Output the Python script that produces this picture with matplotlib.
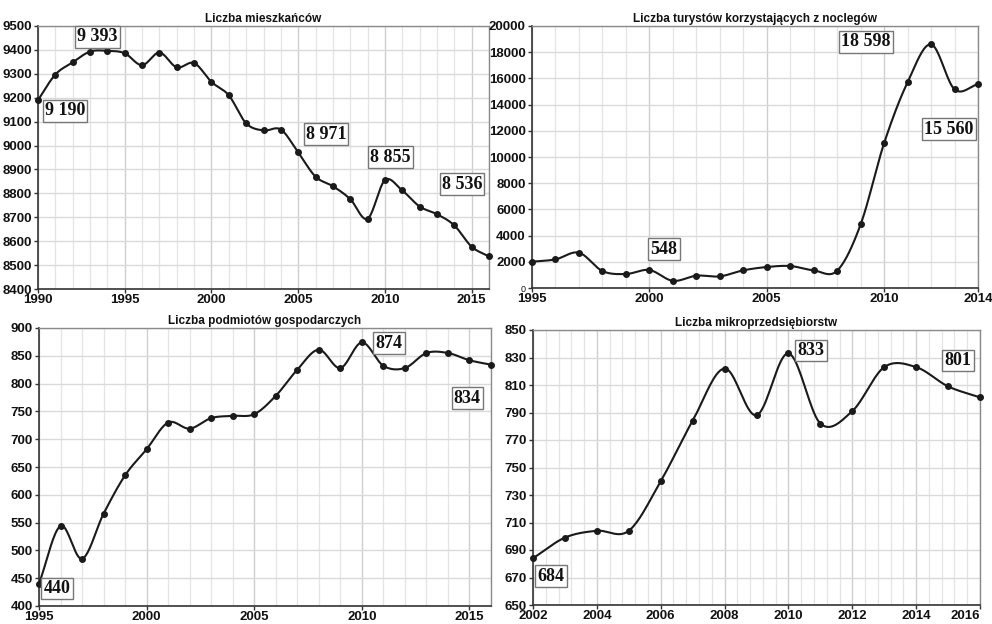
import numpy as np
import matplotlib
matplotlib.use("Agg")
import matplotlib.pyplot as plt
from matplotlib.ticker import FixedLocator

# ---------------- data ----------------
years_pop = list(range(1990, 2017))
pop = [9190, 9297, 9348, 9393, 9396, 9386, 9336, 9389, 9327, 9345, 9266, 9210,
       9093, 9063, 9067, 8971, 8870, 8830, 8776, 8694, 8855, 8812, 8745, 8713,
       8666, 8577, 8536]

years_tour = list(range(1995, 2015))
tourists = [2008, 2185, 2694, 1296, 1067, 1372, 548, 940, 889, 1347, 1601, 1677,
            1347, 1321, 4854, 11055, 15705, 18598, 15170, 15560]

years_firms = list(range(1995, 2017))
firms = [440, 544, 485, 566, 635, 682, 730, 719, 738, 742, 745, 778, 825, 861,
         828, 874, 832, 828, 855, 855, 842, 834]

years_micro = list(range(2002, 2017))
micro = [684, 699, 704, 704, 740, 784, 822, 788, 833, 782, 791, 823, 823, 809, 801]

titles = ["Liczba mieszkańców", "Liczba turystów korzystających z noclegów",
          "Liczba podmiotów gospodarczych", "Liczba mikroprzedsiębiorstw"]

labels_pop = [("9 393", 1993.44, 9454), ("9 190", 1991.56, 9145), ("8 971", 2006.6, 9048),
              ("8 855", 2010.3, 8952), ("8 536", 2014.44, 8839)]
labels_tour = [("18 598", 2009.23, 18779), ("15 560", 2012.76, 12137), ("548", 2000.62, 2977)]
labels_firms = [("874", 2011.26, 873), ("834", 2014.9, 774), ("440", 1995.84, 432)]
labels_micro = [("833", 2010.71, 835), ("801", 2015.31, 828), ("684", 2002.56, 671)]


def catmull_rom(x, y, n=20):
    x = np.asarray(x, float)
    y = np.asarray(y, float)
    P = np.column_stack([x, y])
    P = np.vstack([2 * P[0] - P[1], P, 2 * P[-1] - P[-2]])
    out = []
    t = np.linspace(0, 1, n, endpoint=False)
    for i in range(1, len(P) - 2):
        p0, p1, p2, p3 = P[i - 1], P[i], P[i + 1], P[i + 2]
        tt = t[:, None]
        seg = 0.5 * ((2 * p1) + (-p0 + p2) * tt + (2 * p0 - 5 * p1 + 4 * p2 - p3) * tt ** 2
                     + (-p0 + 3 * p1 - 3 * p2 + p3) * tt ** 3)
        out.append(seg)
    out.append(P[-2][None, :])
    S = np.vstack(out)
    return S[:, 0], S[:, 1]


plt.rcParams['font.family'] = ['Liberation Sans', 'DejaVu Sans']

fig = plt.figure(figsize=(9.92, 6.24), dpi=100)
fig.patch.set_facecolor('white')

W, H = 992.0, 624.0


def make_ax(l, t, r, b):
    return fig.add_axes([l / W, 1 - b / H, (r - l) / W, (b - t) / H])


panels = [
    dict(box=(38, 26, 489, 289), x=years_pop, y=pop, xlim=(1990, 2016), ylim=(8400, 9500),
         xt=[1990, 1995, 2000, 2005, 2010, 2015], ystep=100, xminor=1, labels=labels_pop),
    dict(box=(532, 26, 978, 288), x=years_tour, y=tourists, xlim=(1995, 2014), ylim=(0, 20000),
         xt=[1995, 2000, 2005, 2010, 2014], ystep=2000, xminor=1, labels=labels_tour),
    dict(box=(39, 328, 491, 606), x=years_firms, y=firms, xlim=(1995, 2016), ylim=(400, 900),
         xt=[1995, 2000, 2005, 2010, 2015], ystep=50, xminor=1, labels=labels_firms),
    dict(box=(533, 330, 980, 605), x=years_micro, y=micro, xlim=(2002, 2016), ylim=(650, 850),
         xt=list(range(2002, 2017, 2)), ystep=20, xminor=0.4, labels=labels_micro),
]

for i, p in enumerate(panels):
    ax = make_ax(*p['box'])
    ax.set_xlim(*p['xlim'])
    ax.set_ylim(*p['ylim'])
    # grid
    x0, x1 = p['xlim']
    xs = np.arange(x0, x1 + 1e-9, p['xminor'])
    for xv in xs:
        major = any(abs(xv - t) < 1e-6 for t in p['xt'])
        ax.axvline(xv, color='#cfcfcf' if major else '#e4e4e4', lw=1.0 if major else 0.9, zorder=0)
    y0, y1 = p['ylim']
    for yv in np.arange(y0, y1 + 1e-9, p['ystep']):
        ax.axhline(yv, color='#dadada', lw=1.0, zorder=0)
    # line
    sx, sy = catmull_rom(p['x'], p['y'])
    ax.plot(sx, sy, color='#1a1a1a', lw=1.5, zorder=3, clip_on=False)
    ax.plot(p['x'], p['y'], 'o', color='#1a1a1a', ms=4, zorder=4, clip_on=False)
    # ticks
    ax.xaxis.set_major_locator(FixedLocator(p['xt']))
    ax.set_xticklabels([str(t) for t in p['xt']])
    yt = np.arange(y0, y1 + 1e-9, p['ystep'])
    ax.set_yticks(yt)
    ax.set_yticklabels([str(int(v)) for v in yt])
    ax.tick_params(axis='both', direction='out', length=3, width=1, color='#333333')
    ax.tick_params(axis='y', pad=1.5)
    ax.tick_params(axis='x', pad=0.5)
    for lab in ax.get_xticklabels() + ax.get_yticklabels():
        lab.set_fontweight('bold')
        lab.set_fontsize(9.5)
        lab.set_color('#111111')
    if i == 1:
        zl = ax.get_yticklabels()[0]
        zl.set_fontweight('normal')
        zl.set_fontsize(6.5)
    if i == 3:
        ax.get_xticklabels()[-1].set_horizontalalignment('right')
        ax.get_xticklabels()[-1].set_x(p['xt'][-1])
    for s in ['left', 'bottom']:
        ax.spines[s].set_color('#333333')
        ax.spines[s].set_linewidth(1.2)
    for s in ['top', 'right']:
        ax.spines[s].set_color('#8a8a8a')
        ax.spines[s].set_linewidth(1.0)
    ax.set_title(titles[i], fontsize=8.5, fontweight='bold', pad=3, color='#111111')
    for txt, lx, ly in p['labels']:
        ax.text(lx, ly, txt, ha='center', va='center', fontsize=13, fontweight='bold',
                family=['Liberation Serif', 'DejaVu Serif'], color='#111111', zorder=5,
                bbox=dict(boxstyle='square,pad=0.12', facecolor='white',
                          edgecolor='#777777', linewidth=1.0))

fig.savefig('out.png', dpi=100, facecolor='white')
